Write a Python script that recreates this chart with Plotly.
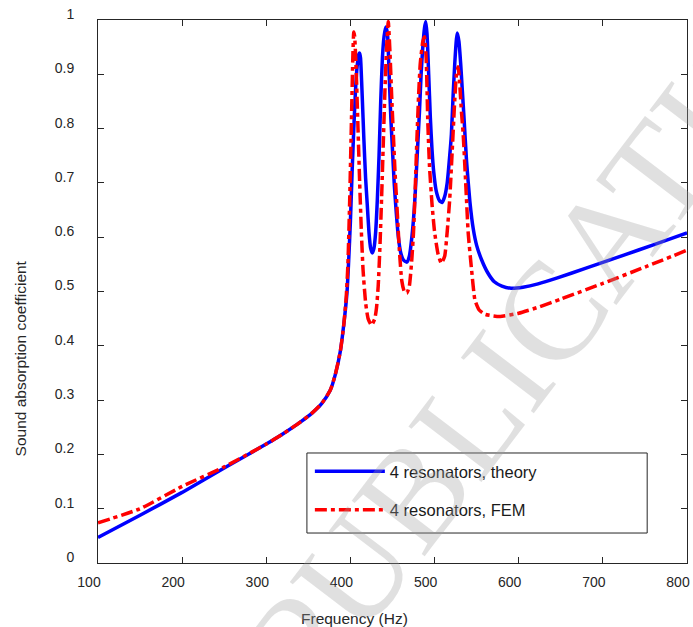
import plotly.graph_objects as go

# ---- data ----
freq_theory = [100, 150, 200, 250, 300, 320, 340, 355, 366, 376, 382, 388, 392, 396, 398, 400, 402, 404,
               406, 408, 410, 411, 412, 414, 416, 418, 420, 422, 424, 426, 428, 430, 432, 434, 436, 438,
               440, 442, 444, 446, 448, 450, 452, 454, 457, 460, 463, 467, 470, 473, 476, 478, 480, 482,
               484, 486, 488, 489.5, 491, 493, 495, 497, 499, 502, 506, 509, 512, 515, 518, 520, 522, 524,
               526, 527, 529, 531, 533, 535, 538, 542, 546, 550, 556, 563, 571, 580, 591, 605, 623, 646,
               680, 725, 760, 800]
alpha_theory = [0.047, 0.088, 0.130, 0.175, 0.219, 0.238, 0.259, 0.277, 0.294, 0.318, 0.347, 0.390, 0.438,
                0.500, 0.560, 0.630, 0.720, 0.800, 0.870, 0.915, 0.937, 0.939, 0.930, 0.860, 0.780, 0.710,
                0.660, 0.610, 0.580, 0.571, 0.580, 0.610, 0.670, 0.750, 0.850, 0.930, 0.970, 0.987, 0.975,
                0.900, 0.820, 0.760, 0.700, 0.655, 0.600, 0.570, 0.558, 0.554, 0.565, 0.600, 0.655, 0.710,
                0.770, 0.830, 0.900, 0.950, 0.985, 0.997, 0.975, 0.900, 0.820, 0.760, 0.720, 0.685, 0.667,
                0.664, 0.675, 0.700, 0.750, 0.790, 0.860, 0.920, 0.965, 0.976, 0.960, 0.920, 0.870, 0.820,
                0.740, 0.665, 0.615, 0.585, 0.558, 0.535, 0.518, 0.510, 0.506, 0.508, 0.514, 0.525, 0.543,
                0.567, 0.586, 0.608]

freq_fem = [100, 150, 200, 250, 300, 320, 340, 355, 366, 376, 382, 388, 392, 395, 397, 399, 401, 403, 404,
            405, 407, 409, 411, 413, 415, 418, 421, 425, 429, 431, 433, 435, 437, 439, 441, 443, 445, 447,
            449, 451, 453, 455, 458, 461, 464, 467, 470, 473, 475, 477, 479, 481, 483, 486, 488, 490, 492,
            494, 497, 500, 504, 508, 512, 515, 518, 521, 524, 526, 528, 530, 532, 534, 537, 540, 544, 548,
            553, 560, 570, 578, 600, 625, 650, 700, 750, 800]
alpha_fem = [0.074, 0.100, 0.141, 0.177, 0.219, 0.238, 0.259, 0.277, 0.294, 0.318, 0.347, 0.390, 0.437,
             0.490, 0.550, 0.660, 0.800, 0.940, 0.978, 0.970, 0.900, 0.800, 0.700, 0.610, 0.540, 0.480,
             0.450, 0.438, 0.450, 0.470, 0.510, 0.580, 0.670, 0.770, 0.870, 0.950, 0.997, 0.940, 0.860,
             0.790, 0.720, 0.665, 0.580, 0.520, 0.500, 0.497, 0.510, 0.560, 0.610, 0.690, 0.780, 0.860,
             0.920, 0.960, 0.969, 0.930, 0.810, 0.730, 0.660, 0.610, 0.570, 0.552, 0.565, 0.610, 0.670,
             0.760, 0.853, 0.900, 0.914, 0.880, 0.830, 0.790, 0.700, 0.607, 0.540, 0.484, 0.466, 0.458,
             0.455, 0.454, 0.460, 0.472, 0.486, 0.515, 0.545, 0.576]

x_ticks = [100, 200, 300, 400, 500, 600, 700, 800]
y_ticks = [0, 0.1, 0.2, 0.3, 0.4, 0.5, 0.6, 0.7, 0.8, 0.9, 1]
y_tick_text = ["0", "0.1", "0.2", "0.3", "0.4", "0.5", "0.6", "0.7", "0.8", "0.9", "1"]

FONT = "Liberation Sans, Arial, sans-serif"
AX = "#262626"

fig = go.Figure()
fig.add_trace(go.Scatter(x=freq_theory, y=alpha_theory, mode="lines",
                         name="4 resonators, theory", legendgroup="a",
                         line=dict(color="#0000ff", width=3.5, shape="spline", smoothing=0.5)))
fig.add_trace(go.Scatter(x=freq_fem, y=alpha_fem, mode="lines",
                         name="4 resonators, FEM", legendgroup="b",
                         line=dict(color="#ff0000", width=3.5, dash="12px,4px,4px,4px",
                                   shape="spline", smoothing=0.5)))

axis_common = dict(showline=True, mirror="ticks", linecolor=AX, linewidth=1,
                   ticks="inside", ticklen=6, tickcolor=AX, tickwidth=1,
                   showgrid=False, zeroline=False,
                   tickfont=dict(family=FONT, size=14, color=AX))

fig.update_xaxes(range=[100, 800], tickvals=x_ticks, ticklabelshift=-9,
                 ticklabelstandoff=6, **axis_common)
fig.update_yaxes(range=[0, 1], tickvals=y_ticks, ticktext=y_tick_text,
                 ticklabelshift=-6, ticklabelstandoff=20, **axis_common)

# legend border
fig.add_shape(type="rect", xref="paper", yref="paper",
              x0=0.3547, x1=0.9324, y0=0.0552, y1=0.2026,
              line=dict(color=AX, width=1), fillcolor="rgba(0,0,0,0)")

# axis titles
fig.add_annotation(text="Frequency (Hz)", xref="paper", yref="paper",
                   x=(356 - 98) / 592, y=-(618 - 563) / 543, showarrow=False,
                   xanchor="center", yanchor="middle",
                   font=dict(family=FONT, size=15.5, color=AX))
fig.add_annotation(text="Sound absorption coefficient", xref="paper", yref="paper",
                   x=-(98 - 20) / 592, y=(563 - 358) / 543, showarrow=False, textangle=-90,
                   xanchor="center", yanchor="middle",
                   font=dict(family=FONT, size=15.5, color=AX))

# watermark
fig.add_annotation(text="PUBLICATION", xref="paper", yref="paper",
                   x=(556 - 98) / 592, y=(563 - 308) / 543, showarrow=False, textangle=-52.7,
                   xanchor="center", yanchor="middle",
                   font=dict(family="Liberation Serif, Times New Roman, serif", size=140,
                             color="rgba(160,160,160,0.32)"))

fig.update_layout(
    width=693, height=627,
    margin=dict(l=98, r=3, t=20, b=64),
    paper_bgcolor="white", plot_bgcolor="white",
    showlegend=True,
    legend=dict(x=0.3547 + 0.005, y=0.2026 - 0.002, xanchor="left", yanchor="top",
                bgcolor="rgba(0,0,0,0)", borderwidth=0, itemwidth=70,
                traceorder="grouped", tracegroupgap=14,
                font=dict(family=FONT, size=16.5, color="#1a1a1a")),
)

fig.write_html("out.html")
